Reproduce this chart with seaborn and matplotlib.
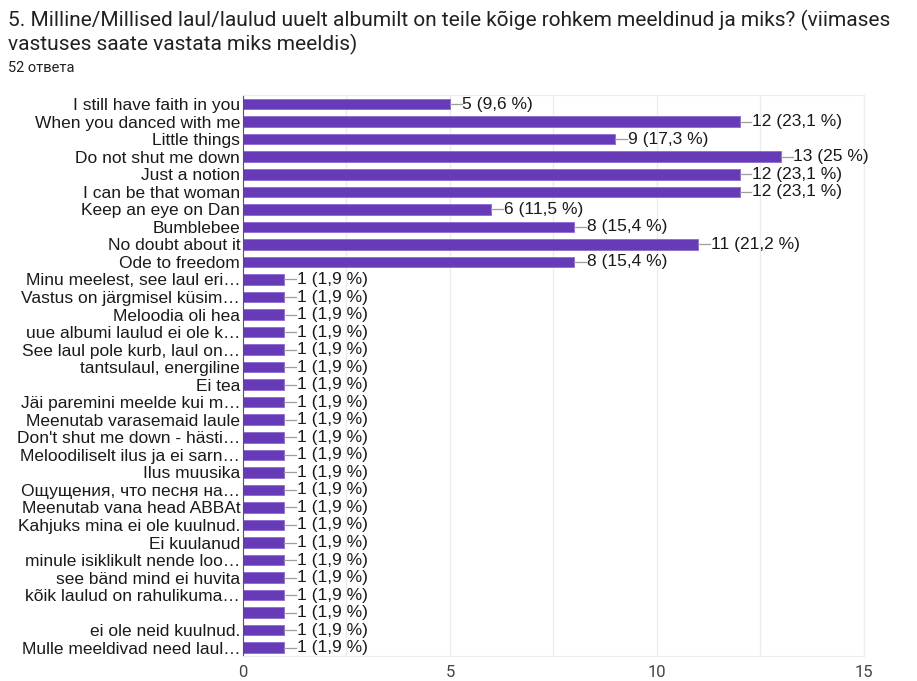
import pandas as pd
import seaborn as sns
import matplotlib.pyplot as plt

# data
labels = [
    "I still have faith in you", "When you danced with me", "Little things",
    "Do not shut me down", "Just a notion", "I can be that woman",
    "Keep an eye on Dan", "Bumblebee", "No doubt about it", "Ode to freedom",
    "Minu meelest, see laul eri…", "Vastus on järgmisel küsim…",
    "Meloodia oli hea", "uue albumi laulud ei ole k…",
    "See laul pole kurb, laul on…", "tantsulaul, energiline", "Ei tea",
    "Jäi paremini meelde kui m…", "Meenutab varasemaid laule",
    "Don't shut me down - hästi…", "Meloodiliselt ilus ja ei sarn…",
    "Ilus muusika", "Ощущения, что песня на…", "Meenutab vana head ABBAt",
    "Kahjuks mina ei ole kuulnud.", "Ei kuulanud",
    "minule isiklikult nende loo…", "see bänd mind ei huvita",
    "kõik laulud on rahulikuma…", " ", "ei ole neid kuulnud.",
    "Mulle meeldivad need laul…",
]
counts = [5, 12, 9, 13, 12, 12, 6, 8, 11, 8] + [1] * 22
total = 52

df = pd.DataFrame({"label": labels, "count": counts})

purple = "#673ab7"

fig = plt.figure(figsize=(9.17, 6.81), dpi=100)
ax = fig.add_axes([0.265, 0.036, 0.677, 0.824])

sns.barplot(data=df, x="count", y="label", orient="h", color=purple,
            saturation=1, width=0.6, edgecolor="#8c6bd0", linewidth=0.6, ax=ax)

# value labels with small connector line
for i, v in enumerate(counts):
    pct = round(v / total * 100, 1)
    pct_s = str(int(pct)) if pct == int(pct) else str(pct).replace(".", ",")
    ax.plot([v, v + 0.28], [i, i], color="#9e9e9e", lw=0.9, zorder=3)
    ax.text(v + 0.3, i, f"{v} ({pct_s} %)", va="center", ha="left",
            fontsize=12.5, family="Liberation Sans", color="#1a1a1a")

ax.set_xlim(0, 15)
ax.set_ylim(31.5, -0.5)
ax.set_xticks([0, 5, 10, 15])
ax.set_xticks([2.5, 7.5, 12.5], minor=True)
ax.grid(axis="x", which="both", color="#ececec", lw=1)
ax.set_axisbelow(True)
ax.set_xlabel("")
ax.set_ylabel("")
for s in ["top", "right", "bottom"]:
    ax.spines[s].set_color("#ececec")
ax.spines["left"].set_color("#555555")
ax.tick_params(axis="y", length=0, pad=2)
ax.tick_params(axis="x", which="both", length=0, pad=6, colors="#444444",
               labelsize=12)
for t in ax.get_yticklabels():
    t.set_family("Liberation Sans")
    t.set_fontsize(12.5)
    t.set_color("#1a1a1a")
for t in ax.get_xticklabels():
    t.set_family("Roboto")

fig.text(0.009, 0.97, "5. Milline/Millised laul/laulud uuelt albumilt on teile kõige rohkem meeldinud ja miks? (viimases",
         family="Roboto", fontsize=15, color="#212121", va="center")
fig.text(0.009, 0.934, "vastuses saate vastata miks meeldis)",
         family="Roboto", fontsize=15, color="#212121", va="center")
fig.text(0.009, 0.9, "52 ответа", family="Roboto", fontsize=10.5,
         color="#212121", va="center")

fig.savefig("out.png", dpi=100)
